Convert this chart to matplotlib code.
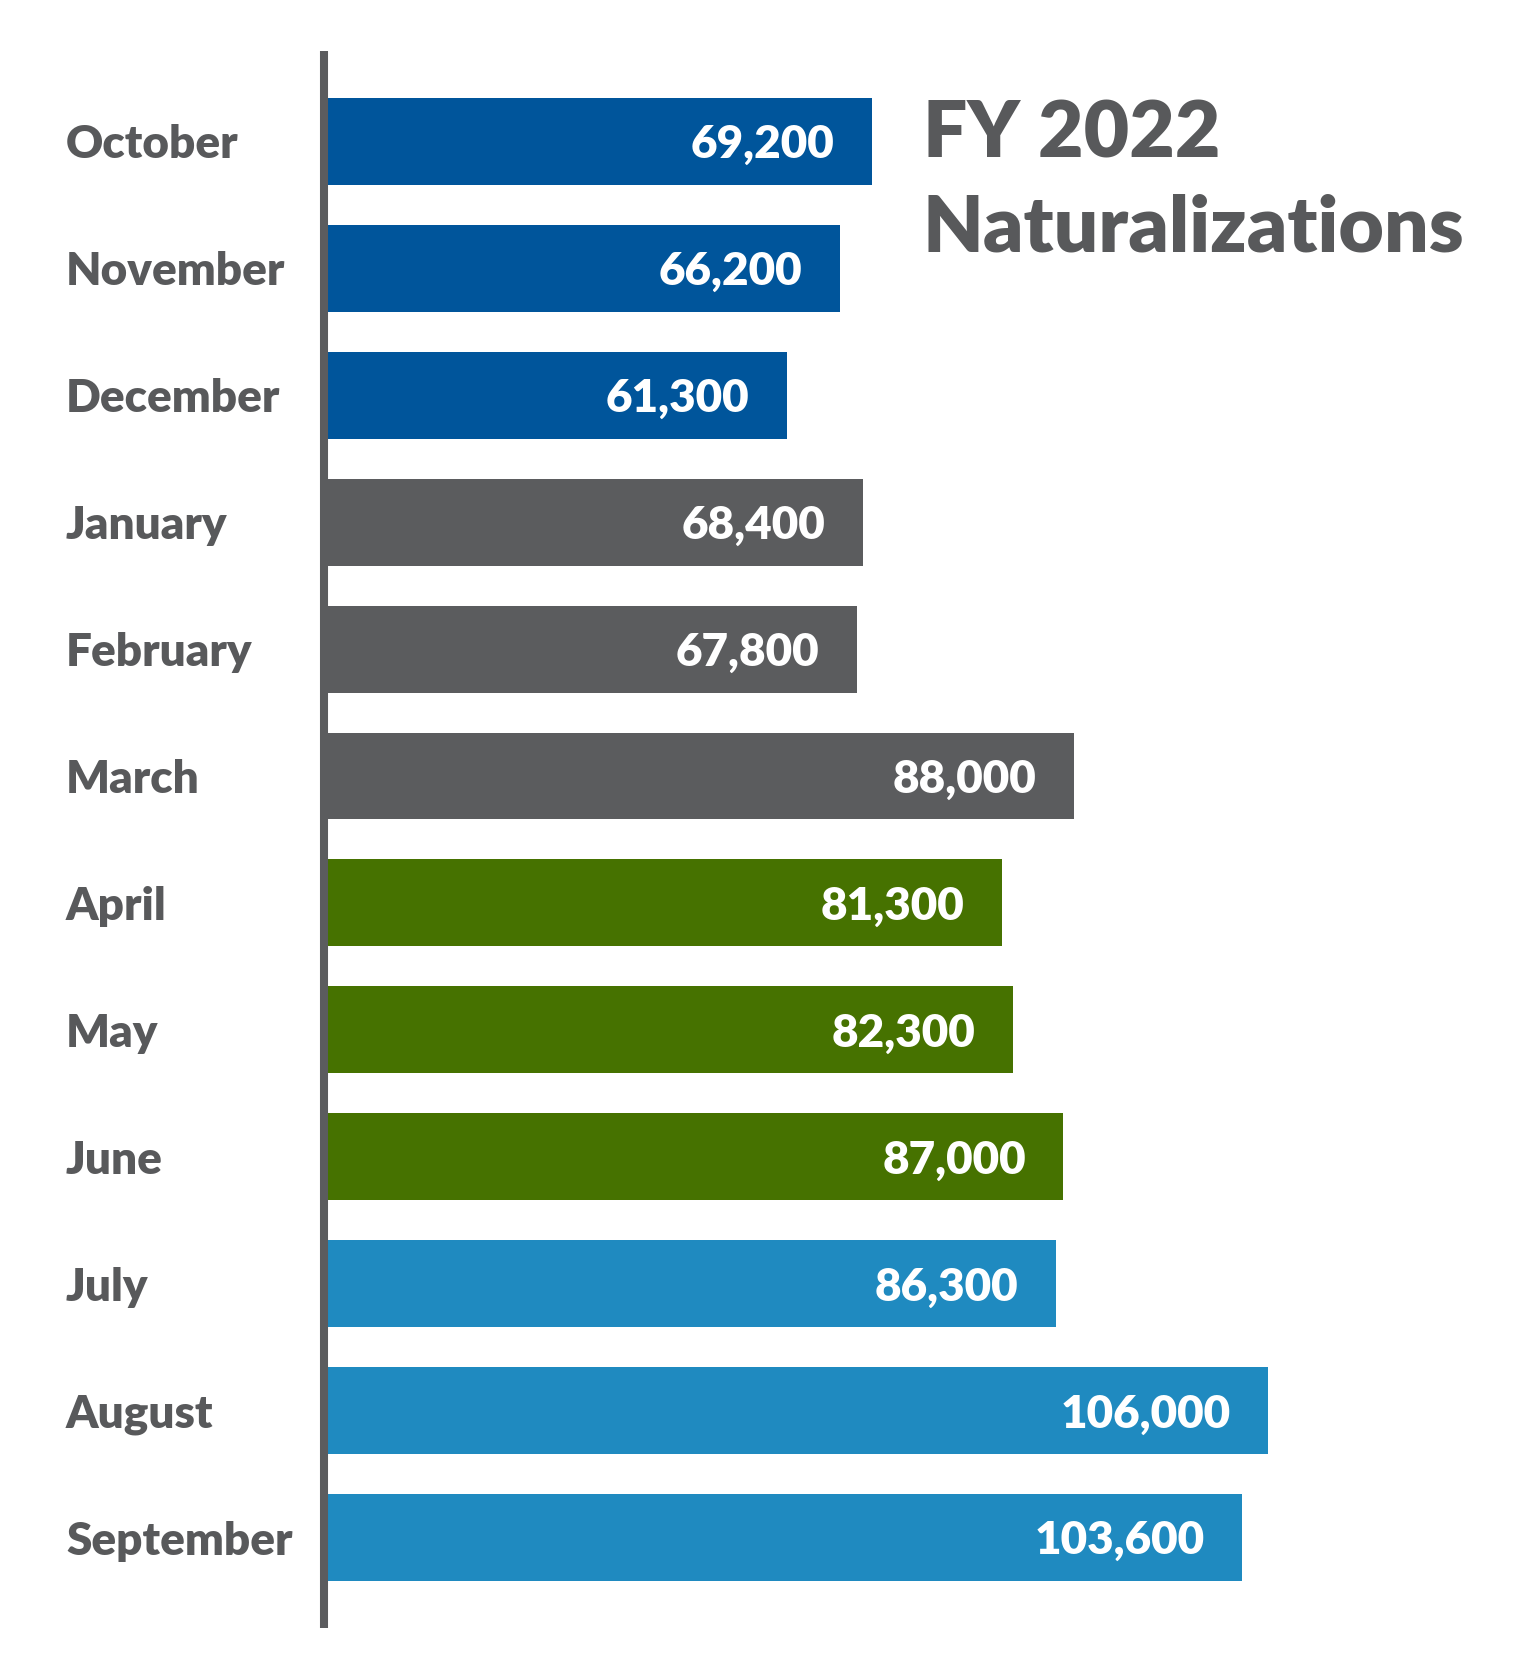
import matplotlib.pyplot as plt
from matplotlib.transforms import blended_transform_factory

# FY 2022 naturalizations by month
months = ["October", "November", "December", "January", "February", "March",
          "April", "May", "June", "July", "August", "September"]
values = [69200, 66200, 61300, 68400, 67800, 88000,
          81300, 82300, 87000, 86300, 106000, 103600]
quarter_colors = ["#00559B"] * 3 + ["#5B5C5E"] * 3 + ["#467200"] * 3 + ["#1F8AC0"] * 3

text_gray = "#58595B"
font = "Lato"
wt = 800

fig = plt.figure(figsize=(15.21, 16.80), dpi=100)
ax = fig.add_axes([0.2156, 0.031, 1 - 0.2156, 0.9696 - 0.031])

ypos = list(range(len(months)))
ax.barh(ypos, values, height=0.685, color=quarter_colors)

ax.set_xlim(18636, 129520)
ax.set_ylim(11.71, -0.71)

for s in ["top", "right", "bottom"]:
    ax.spines[s].set_visible(False)
ax.spines["left"].set_color("#5B5C5E")
ax.spines["left"].set_linewidth(5.8)
ax.spines["left"].set_capstyle("butt")
ax.spines["left"].set_position(("outward", 2.9))
ax.set_xticks([])
ax.set_yticks([])

# month labels, x in figure fraction, y in data
trans = blended_transform_factory(fig.transFigure, ax.transData)
lab_size = 33
for y, m in zip(ypos, months):
    ax.annotate(m, xy=(66 / 1521, y), xycoords=trans,
                xytext=(0, -0.37 * lab_size), textcoords="offset points",
                ha="left", va="baseline", fontsize=lab_size, fontweight=wt,
                color=text_gray, family=font)

# value labels inside bars
val_size = 33
for y, v in zip(ypos, values):
    ax.annotate(f"{v:,}", xy=(v, y), xytext=(-27, -0.36 * val_size), textcoords="offset points",
                ha="right", va="baseline", fontsize=val_size, fontweight=wt,
                color="white", family=font)

fig.text(923 / 1521, 1 - 157 / 1680, "FY 2022", ha="left", va="baseline",
         fontsize=56.5, fontweight=wt, color=text_gray, family=font)
fig.text(923 / 1521, 1 - 252 / 1680, "Naturalizations", ha="left", va="baseline",
         fontsize=56.5, fontweight=wt, color=text_gray, family=font)

fig.savefig("out.png", dpi=100, facecolor="white")
